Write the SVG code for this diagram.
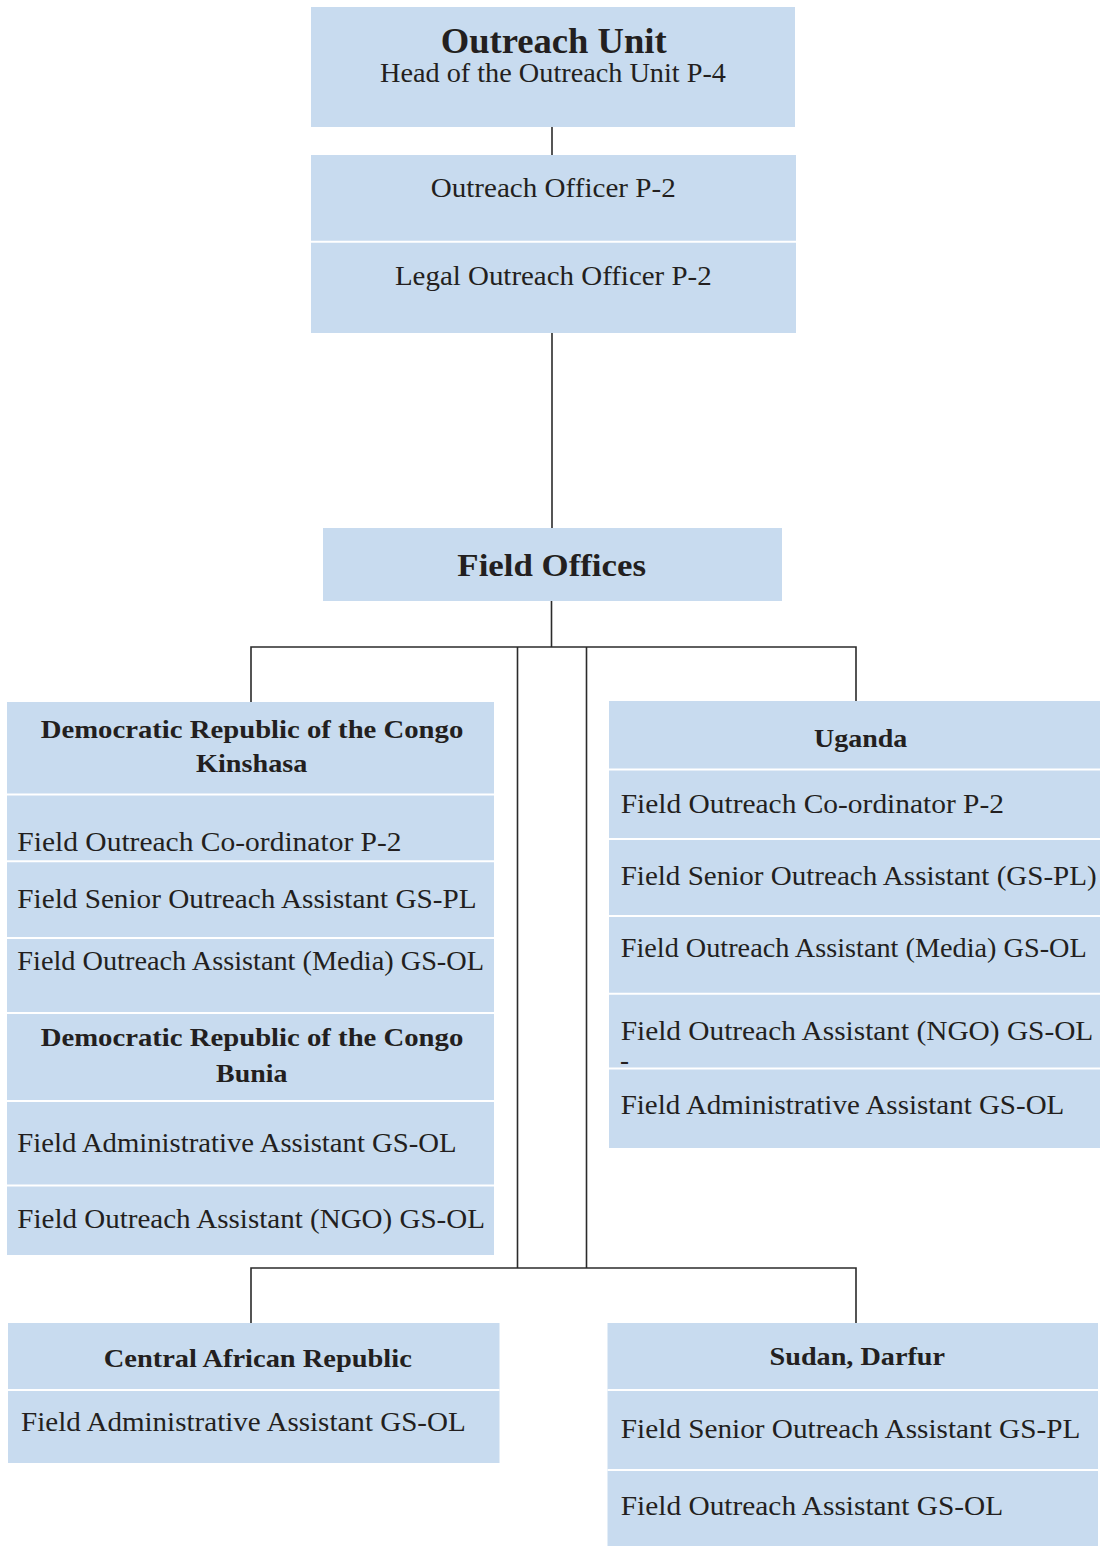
<svg xmlns="http://www.w3.org/2000/svg" width="1100" height="1546" viewBox="0 0 1100 1546">
<style>
.box{fill:#c8dbef}
.sep{stroke:#ffffff;stroke-width:2;fill:none}
.con{stroke:#2b2b2b;stroke-width:1.6;fill:none}
text{font-family:"Liberation Serif","Times New Roman",serif;fill:#231f20}
.t{font-size:27px}
.h{font-size:26px;font-weight:bold;text-anchor:middle}
.c{text-anchor:middle}
</style>
<rect width="1100" height="1546" fill="#ffffff"/>
<g id="connectors">
<line class="con" x1="552" y1="126" x2="552" y2="155"/>
<line class="con" x1="552" y1="332" x2="552" y2="528"/>
<line class="con" x1="551.5" y1="600" x2="551.5" y2="647"/>
<polyline class="con" points="251,702 251,647 856,647 856,701"/>
<line class="con" x1="517.5" y1="647" x2="517.5" y2="1268"/>
<line class="con" x1="586.5" y1="647" x2="586.5" y2="1268"/>
<polyline class="con" points="251,1323 251,1268 856,1268 856,1323"/>
</g>
<g id="outreach-unit">
<rect class="box" x="311" y="7" width="484" height="120"/>
<text x="553.7" y="53" font-size="36" font-weight="bold" text-anchor="middle" textLength="226" lengthAdjust="spacingAndGlyphs">Outreach Unit</text>
<text class="t c" x="553" y="82" textLength="346" lengthAdjust="spacingAndGlyphs">Head of the Outreach Unit P-4</text>
</g>
<g id="officers">
<rect class="box" x="311" y="155" width="485" height="178"/>
<line class="sep" x1="311" y1="241.7" x2="796" y2="241.7"/>
<text class="t c" x="553.2" y="197" textLength="245" lengthAdjust="spacingAndGlyphs">Outreach Officer P-2</text>
<text class="t c" x="553.3" y="285" textLength="316.7" lengthAdjust="spacingAndGlyphs">Legal Outreach Officer P-2</text>
</g>
<g id="field-offices">
<rect class="box" x="323" y="528" width="459" height="73"/>
<text x="551.7" y="576" font-size="32" font-weight="bold" text-anchor="middle" textLength="188.7" lengthAdjust="spacingAndGlyphs">Field Offices</text>
</g>
<g id="drc">
<rect class="box" x="7" y="702" width="487" height="553"/>
<line class="sep" x1="7" y1="794.5" x2="494" y2="794.5"/>
<line class="sep" x1="7" y1="861.3" x2="494" y2="861.3"/>
<line class="sep" x1="7" y1="938" x2="494" y2="938"/>
<line class="sep" x1="7" y1="1013" x2="494" y2="1013"/>
<line class="sep" x1="7" y1="1101" x2="494" y2="1101"/>
<line class="sep" x1="7" y1="1185.5" x2="494" y2="1185.5"/>
<text class="h" x="252" y="738" textLength="422.6" lengthAdjust="spacingAndGlyphs">Democratic Republic of the Congo</text>
<text class="h" x="251.7" y="772" textLength="111.3" lengthAdjust="spacingAndGlyphs">Kinshasa</text>
<text class="t" x="17.3" y="851" textLength="384.3" lengthAdjust="spacingAndGlyphs">Field Outreach Co-ordinator P-2</text>
<text class="t" x="17.3" y="908.3" textLength="459.3" lengthAdjust="spacingAndGlyphs">Field Senior Outreach Assistant GS-PL</text>
<text class="t" x="17.3" y="970" textLength="466.7" lengthAdjust="spacingAndGlyphs">Field Outreach Assistant (Media) GS-OL</text>
<text class="h" x="252" y="1046" textLength="422.6" lengthAdjust="spacingAndGlyphs">Democratic Republic of the Congo</text>
<text class="h" x="251.7" y="1082" textLength="71.3" lengthAdjust="spacingAndGlyphs">Bunia</text>
<text class="t" x="17.3" y="1151.7" textLength="439.3" lengthAdjust="spacingAndGlyphs">Field Administrative Assistant GS-OL</text>
<text class="t" x="17.3" y="1227.7" textLength="467.7" lengthAdjust="spacingAndGlyphs">Field Outreach Assistant (NGO) GS-OL</text>
</g>
<g id="uganda">
<rect class="box" x="609" y="701" width="491" height="447"/>
<line class="sep" x1="609" y1="769.5" x2="1100" y2="769.5"/>
<line class="sep" x1="609" y1="839" x2="1100" y2="839"/>
<line class="sep" x1="609" y1="916" x2="1100" y2="916"/>
<line class="sep" x1="609" y1="993.7" x2="1100" y2="993.7"/>
<line class="sep" x1="609" y1="1068.5" x2="1100" y2="1068.5"/>
<text class="h" x="860.7" y="747" textLength="93.3" lengthAdjust="spacingAndGlyphs">Uganda</text>
<text class="t" x="620.7" y="813.3" textLength="383.3" lengthAdjust="spacingAndGlyphs">Field Outreach Co-ordinator P-2</text>
<text class="t" x="620.7" y="885" textLength="476" lengthAdjust="spacingAndGlyphs">Field Senior Outreach Assistant (GS-PL)</text>
<text class="t" x="620.7" y="957.3" textLength="466" lengthAdjust="spacingAndGlyphs">Field Outreach Assistant (Media) GS-OL</text>
<text class="t" x="620.7" y="1040" textLength="472.6" lengthAdjust="spacingAndGlyphs">Field Outreach Assistant (NGO) GS-OL</text>
<text class="t" x="620" y="1069">-</text>
<text class="t" x="620.7" y="1114.3" textLength="443.6" lengthAdjust="spacingAndGlyphs">Field Administrative Assistant GS-OL</text>
</g>
<g id="car">
<rect class="box" x="8" y="1323" width="491.5" height="140"/>
<line class="sep" x1="8" y1="1390" x2="499.5" y2="1390"/>
<text class="h" x="257.8" y="1367" textLength="308" lengthAdjust="spacingAndGlyphs">Central African Republic</text>
<text class="t" x="21" y="1431" textLength="444.8" lengthAdjust="spacingAndGlyphs">Field Administrative Assistant GS-OL</text>
</g>
<g id="sudan">
<rect class="box" x="607.5" y="1323" width="490.5" height="223"/>
<line class="sep" x1="607.5" y1="1390" x2="1098" y2="1390"/>
<line class="sep" x1="607.5" y1="1470" x2="1098" y2="1470"/>
<text class="h" x="857.3" y="1365" textLength="175.4" lengthAdjust="spacingAndGlyphs">Sudan, Darfur</text>
<text class="t" x="620.8" y="1438.3" textLength="459.5" lengthAdjust="spacingAndGlyphs">Field Senior Outreach Assistant GS-PL</text>
<text class="t" x="620.8" y="1515" textLength="382.4" lengthAdjust="spacingAndGlyphs">Field Outreach Assistant GS-OL</text>
</g>
</svg>
